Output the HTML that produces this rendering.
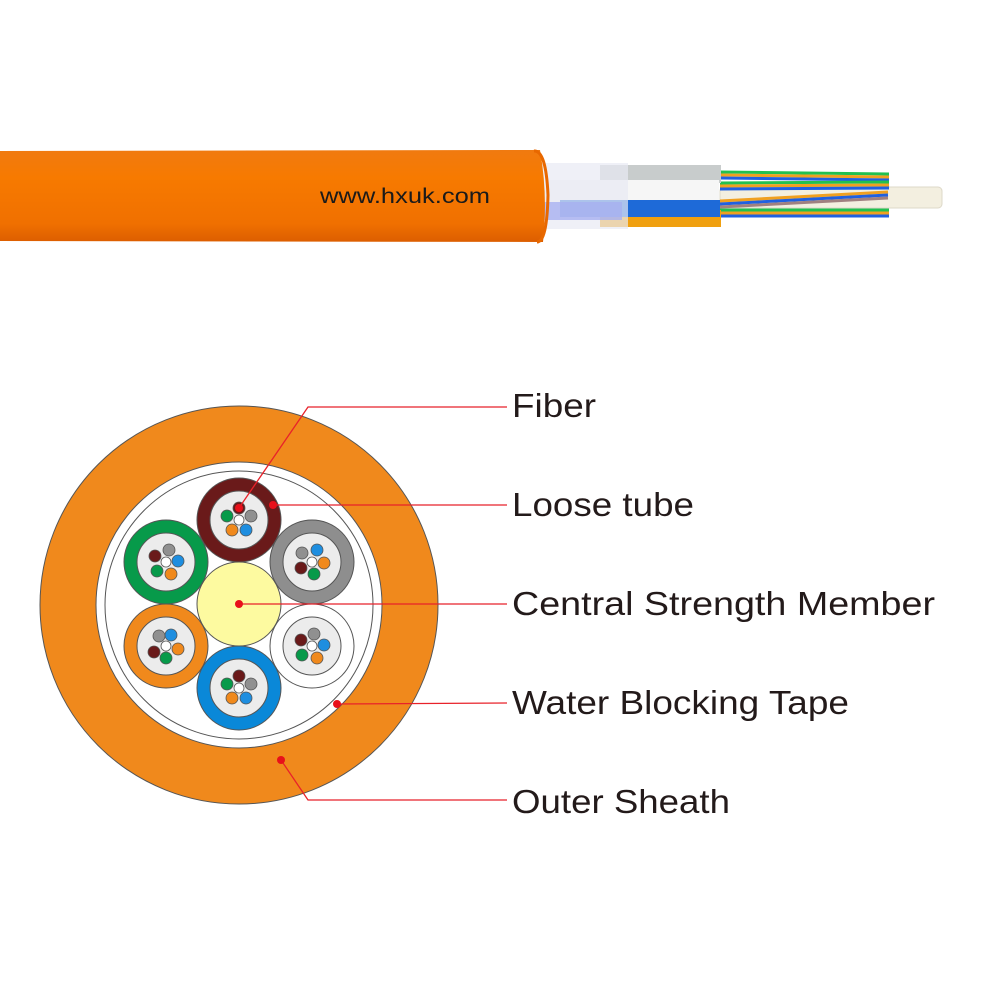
<!DOCTYPE html>
<html><head><meta charset="utf-8"><style>html,body{margin:0;padding:0;background:#fff}svg{display:block}</style></head>
<body>
<svg width="1000" height="1000" viewBox="0 0 1000 1000" xmlns="http://www.w3.org/2000/svg">
<defs>
<linearGradient id="og" x1="0" y1="0" x2="0" y2="1">
<stop offset="0" stop-color="#f07a10"/><stop offset="0.3" stop-color="#f77a00"/><stop offset="0.8" stop-color="#f07000"/><stop offset="1" stop-color="#dc5e00"/>
</linearGradient>
</defs>
<!-- top cable -->
<rect x="720" y="187" width="222" height="21" rx="4" fill="#f3efe0" stroke="#ddd8c8"/>
<g stroke-width="3">
<line x1="720" y1="172" x2="889" y2="174" stroke="#22c050"/><line x1="720" y1="175" x2="889" y2="177" stroke="#f0a020"/><line x1="720" y1="178" x2="889" y2="180" stroke="#2060e0"/>
<line x1="720" y1="183" x2="889" y2="182" stroke="#22c050"/><line x1="720" y1="186" x2="889" y2="185" stroke="#f0a020"/><line x1="720" y1="189" x2="889" y2="188" stroke="#2060e0"/>
<line x1="720" y1="201" x2="888" y2="192" stroke="#f0a020"/><line x1="720" y1="204" x2="888" y2="195" stroke="#2060e0"/><line x1="720" y1="207" x2="888" y2="198" stroke="#a08080"/>
<line x1="720" y1="210" x2="889" y2="210" stroke="#22c050"/><line x1="720" y1="213" x2="889" y2="213" stroke="#f0a020"/><line x1="720" y1="216" x2="889" y2="216" stroke="#2060e0"/>
</g>
<rect x="600" y="210" width="121" height="17" fill="#f0a010"/>
<rect x="600" y="165" width="121" height="18" fill="#c8cccc"/>
<rect x="540" y="180" width="179" height="22" fill="#f6f6f6"/>
<rect x="560" y="200" width="160" height="17" fill="#1e6ad8"/>
<rect x="538" y="163" width="90" height="66" fill="#e8eaf4" opacity="0.7"/>
<rect x="538" y="202" width="84" height="18" fill="#a8b0f0" opacity="0.8"/>
<path d="M0 151 L540 150 Q548 195 543 242 L0 241 Z" fill="url(#og)"/>
<path d="M534 151 Q546 150 548 195 Q547 242 537 242" fill="none" stroke="#e86800" stroke-width="3"/>
<text x="320" y="203" font-family="Liberation Sans, sans-serif" font-size="21" fill="#1a1a1a" textLength="170" lengthAdjust="spacingAndGlyphs">www.hxuk.com</text>

<!-- cross section -->
<circle cx="239" cy="605" r="199" fill="#f0891c" stroke="#555" stroke-width="1"/>
<circle cx="239" cy="605" r="143" fill="#fff" stroke="#555" stroke-width="1"/>
<circle cx="239" cy="605" r="134" fill="none" stroke="#555" stroke-width="1"/>
<circle cx="239" cy="604" r="42" fill="#fdfaa0" stroke="#555" stroke-width="1"/>
<g stroke="#555" stroke-width="1">
<circle cx="239" cy="520" r="42" fill="#6a1a1a"/><circle cx="239" cy="520" r="29" fill="#ececec"/>
<circle cx="312" cy="562" r="42" fill="#8e8e8e"/><circle cx="312" cy="562" r="29" fill="#ececec"/>
<circle cx="312" cy="646" r="42" fill="#fff"/><circle cx="312" cy="646" r="29" fill="#ececec"/>
<circle cx="239" cy="688" r="42" fill="#0a88d8"/><circle cx="239" cy="688" r="29" fill="#ececec"/>
<circle cx="166" cy="646" r="42" fill="#f0891c"/><circle cx="166" cy="646" r="29" fill="#ececec"/>
<circle cx="166" cy="562" r="42" fill="#079a4a"/><circle cx="166" cy="562" r="29" fill="#ececec"/>
</g>
<g stroke="#555" stroke-width="0.8">
<circle cx="239" cy="508" r="6" fill="#6a1a1a"/><circle cx="251" cy="516" r="6" fill="#909090"/><circle cx="246" cy="530" r="6" fill="#1e8ee0"/><circle cx="232" cy="530" r="6" fill="#f0891c"/><circle cx="227" cy="516" r="6" fill="#079a4a"/><circle cx="239" cy="520" r="5" fill="#fff"/>
<circle cx="302" cy="553" r="6" fill="#909090"/><circle cx="317" cy="550" r="6" fill="#1e8ee0"/><circle cx="324" cy="563" r="6" fill="#f0891c"/><circle cx="314" cy="574" r="6" fill="#079a4a"/><circle cx="301" cy="568" r="6" fill="#6a1a1a"/><circle cx="312" cy="562" r="5" fill="#fff"/>
<circle cx="301" cy="640" r="6" fill="#6a1a1a"/><circle cx="314" cy="634" r="6" fill="#909090"/><circle cx="324" cy="645" r="6" fill="#1e8ee0"/><circle cx="317" cy="658" r="6" fill="#f0891c"/><circle cx="302" cy="655" r="6" fill="#079a4a"/><circle cx="312" cy="646" r="5" fill="#fff"/>
<circle cx="239" cy="676" r="6" fill="#6a1a1a"/><circle cx="251" cy="684" r="6" fill="#909090"/><circle cx="246" cy="698" r="6" fill="#1e8ee0"/><circle cx="232" cy="698" r="6" fill="#f0891c"/><circle cx="227" cy="684" r="6" fill="#079a4a"/><circle cx="239" cy="688" r="5" fill="#fff"/>
<circle cx="159" cy="636" r="6" fill="#909090"/><circle cx="171" cy="635" r="6" fill="#1e8ee0"/><circle cx="178" cy="649" r="6" fill="#f0891c"/><circle cx="166" cy="658" r="6" fill="#079a4a"/><circle cx="154" cy="652" r="6" fill="#6a1a1a"/><circle cx="166" cy="646" r="5" fill="#fff"/>
<circle cx="169" cy="550" r="6" fill="#909090"/><circle cx="178" cy="561" r="6" fill="#1e8ee0"/><circle cx="171" cy="574" r="6" fill="#f0891c"/><circle cx="157" cy="571" r="6" fill="#079a4a"/><circle cx="155" cy="556" r="6" fill="#6a1a1a"/><circle cx="166" cy="562" r="5" fill="#fff"/>
</g>
<g stroke="#e8222a" stroke-width="1.3" fill="none">
<polyline points="239,508 308,407 507,407"/>
<polyline points="273,505 507,505"/>
<polyline points="239,604 507,604"/>
<polyline points="337,704 507,703"/>
<polyline points="281,760 308,800 507,800"/>
</g>
<g fill="#e8101a">
<circle cx="239" cy="508" r="4"/><circle cx="273" cy="505" r="4"/><circle cx="239" cy="604" r="4"/><circle cx="337" cy="704" r="4"/><circle cx="281" cy="760" r="4"/>
</g>
<g font-family="Liberation Sans, sans-serif" font-size="33" fill="#231a1a">
<text x="512" y="417" textLength="84" lengthAdjust="spacingAndGlyphs">Fiber</text>
<text x="512" y="516" textLength="182" lengthAdjust="spacingAndGlyphs">Loose tube</text>
<text x="512" y="615" textLength="423" lengthAdjust="spacingAndGlyphs">Central Strength Member</text>
<text x="512" y="714" textLength="337" lengthAdjust="spacingAndGlyphs">Water Blocking Tape</text>
<text x="512" y="813" textLength="218" lengthAdjust="spacingAndGlyphs">Outer Sheath</text>
</g>
</svg>
</body></html>
